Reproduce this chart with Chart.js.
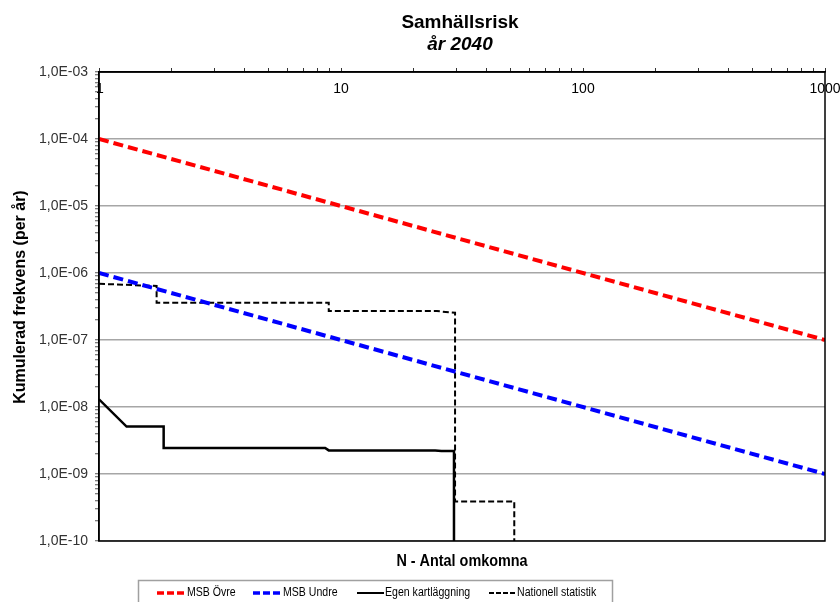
<!DOCTYPE html>
<html>
<head>
<meta charset="utf-8">
<script src="https://cdn.jsdelivr.net/npm/chart.js@4/dist/chart.umd.min.js"></script>
<style>
html,body{margin:0;padding:0;background:#fff;}
#wrap{width:840px;height:602px;position:relative;}
</style>
</head>
<body>
<div id="wrap"><canvas id="c"></canvas></div>
<script>
// ---- texts ----
const TITLE = 'Samhällsrisk';
const SUBTITLE = 'år 2040';
const X_TITLE = 'N - Antal omkomna';
const Y_TITLE = 'Kumulerad frekvens (per år)';
const SERIES_NAMES = ['MSB Övre', 'MSB Undre', 'Egen kartläggning', 'Nationell statistik'];

// ---- tick labels ----
const X_TICK_VALUES = [1, 10, 100, 1000];
const X_TICK_LABELS = ['1', '10', '100', '1000'];
const Y_TICK_VALUES = [1e-3, 1e-4, 1e-5, 1e-6, 1e-7, 1e-8, 1e-9, 1e-10];
const Y_TICK_LABELS = ['1,0E-03', '1,0E-04', '1,0E-05', '1,0E-06', '1,0E-07', '1,0E-08', '1,0E-09', '1,0E-10'];

// ---- series ----
const msbOvreN = [1, 1000];
const msbOvreF = [1e-4, 1e-7];
const msbUndreN = [1, 1000];
const msbUndreF = [1e-6, 1e-9];
const egenN = [1, 1.3, 1.85, 1.85, 8.6, 8.9, 24.5, 26, 29.3, 29.3];
const egenF = [1.3e-8, 5.1e-9, 5.1e-9, 2.45e-9, 2.45e-9, 2.25e-9, 2.25e-9, 2.2e-9, 2.2e-9, 1e-10];
const natN = [1, 1.73, 1.73, 8.9, 8.9, 24.9, 29.6, 29.6, 52, 52];
const natF = [6.9e-7, 6.4e-7, 3.6e-7, 3.6e-7, 2.7e-7, 2.7e-7, 2.55e-7, 3.9e-10, 3.9e-10, 1e-10];

const pts = (xs, ys) => xs.map((x, i) => ({x: x, y: ys[i]}));

const FONT = "'Liberation Sans', Arial, sans-serif";

function logTicks(min, max) {
  const out = [];
  const e0 = Math.round(Math.log10(min)), e1 = Math.round(Math.log10(max));
  for (let e = e0; e < e1; e++) {
    for (let m = 1; m <= 9; m++) out.push({value: m * Math.pow(10, e), major: m === 1});
  }
  out.push({value: Math.pow(10, e1), major: true});
  return out;
}
function lookup(vals, labels, v) {
  for (let i = 0; i < vals.length; i++) {
    if (Math.abs(Math.log10(vals[i]) - Math.log10(v)) < 1e-6) return labels[i];
  }
  return '';
}

const COLORS = ['#ff0000', '#0000ff', '#000000', '#000000'];
const DASHES = [[10, 5], [10, 5], [], [6, 3]];
const WIDTHS = [4, 4, 2.5, 2];

function condensedText(ctx, text, x, y, sx) {
  ctx.save();
  ctx.translate(x, y);
  ctx.scale(sx, 1);
  ctx.fillText(text, 0, 0);
  ctx.restore();
}

const decor = {
  id: 'decor',
  afterDraw(chart) {
    const ctx = chart.ctx, a = chart.chartArea;
    const xs = chart.scales.x;
    ctx.save();
    // plot border
    ctx.strokeStyle = '#000';
    ctx.lineWidth = 1.5;
    ctx.setLineDash([]);
    ctx.strokeRect(a.left, a.top, a.right - a.left, a.bottom - a.top);

    ctx.fillStyle = '#000';
    ctx.textAlign = 'center';
    ctx.textBaseline = 'middle';
    // titles
    ctx.font = 'bold 19px ' + FONT;
    ctx.fillText(TITLE, 460, 23);
    ctx.font = 'italic bold 19px ' + FONT;
    ctx.fillText(SUBTITLE, 460, 45);

    // x tick labels (inside plot, below top axis)
    ctx.font = '14px ' + FONT;
    X_TICK_VALUES.forEach((v, i) => {
      ctx.fillText(X_TICK_LABELS[i], xs.getPixelForValue(v) + (i === 0 ? 1 : 0), a.top + 17);
    });

    // x axis title
    ctx.font = 'bold 16px ' + FONT;
    condensedText(ctx, X_TITLE, (a.left + a.right) / 2, 562, 0.9);

    // y axis title
    ctx.save();
    ctx.translate(21, 297);
    ctx.rotate(-Math.PI / 2);
    ctx.fillText(Y_TITLE, 0, 0);
    ctx.restore();

    // legend
    ctx.strokeStyle = '#a0a0a0';
    ctx.lineWidth = 1.5;
    ctx.strokeRect(138.5, 580.5, 474, 40);
    const sampleX = [157, 253, 357, 489];
    const sampleW = [29, 29, 27, 27];
    ctx.font = '12px ' + FONT;
    ctx.textAlign = 'left';
    const ly = 593;
    chart.data.datasets.forEach((ds, i) => {
      ctx.beginPath();
      ctx.strokeStyle = COLORS[i];
      ctx.lineWidth = i < 2 ? 3.5 : 2;
      ctx.setLineDash(i < 2 ? [7, 3] : (i === 3 ? [5, 2] : []));
      ctx.moveTo(sampleX[i], ly);
      ctx.lineTo(sampleX[i] + sampleW[i], ly);
      ctx.stroke();
      ctx.setLineDash([]);
      ctx.fillStyle = '#000';
      condensedText(ctx, ds.label, sampleX[i] + sampleW[i] + 1, ly, 0.88);
    });
    ctx.restore();
  }
};

const series = [pts(msbOvreN, msbOvreF), pts(msbUndreN, msbUndreF), pts(egenN, egenF), pts(natN, natF)];

new Chart(document.getElementById('c'), {
  type: 'scatter',
  data: {
    datasets: series.map((d, i) => ({
      label: SERIES_NAMES[i],
      data: d,
      showLine: true,
      borderColor: COLORS[i],
      backgroundColor: COLORS[i],
      borderWidth: WIDTHS[i],
      borderDash: DASHES[i],
      borderCapStyle: 'butt',
      pointRadius: 0,
      tension: 0,
      order: i
    }))
  },
  options: {
    responsive: true,
    maintainAspectRatio: false,
    animation: false,
    events: [],
    layout: {padding: {left: 0, right: 15, top: 0, bottom: 61}},
    plugins: {legend: {display: false}, title: {display: false}, tooltip: {enabled: false}},
    scales: {
      x: {
        type: 'logarithmic',
        position: 'top',
        min: 1,
        max: 1000,
        afterBuildTicks: s => { s.ticks = logTicks(1, 1000); },
        afterFit: s => { s.height = 72; },
        ticks: {display: false, autoSkip: false},
        grid: {drawOnChartArea: false, drawTicks: true, tickLength: 4, tickColor: '#333', tickWidth: 1},
        border: {display: true, color: '#000', width: 1.5}
      },
      y: {
        type: 'logarithmic',
        position: 'left',
        min: 1e-10,
        max: 1e-3,
        afterBuildTicks: s => { s.ticks = logTicks(1e-10, 1e-3); },
        afterFit: s => { s.width = 99; },
        ticks: {
          autoSkip: false,
          padding: 7,
          color: '#333',
          font: {family: FONT, size: 14},
          callback: (v, i, t) => t[i].major ? lookup(Y_TICK_VALUES, Y_TICK_LABELS, v) : ''
        },
        grid: {
          color: c => (c.tick && c.tick.major) ? '#a6a6a6' : 'rgba(0,0,0,0)',
          lineWidth: 1.5,
          drawTicks: true,
          tickLength: 4,
          tickColor: '#555',
          tickWidth: 1
        },
        border: {display: true, color: '#000', width: 1.5}
      }
    }
  },
  plugins: [decor]
});
</script>
</body>
</html>
